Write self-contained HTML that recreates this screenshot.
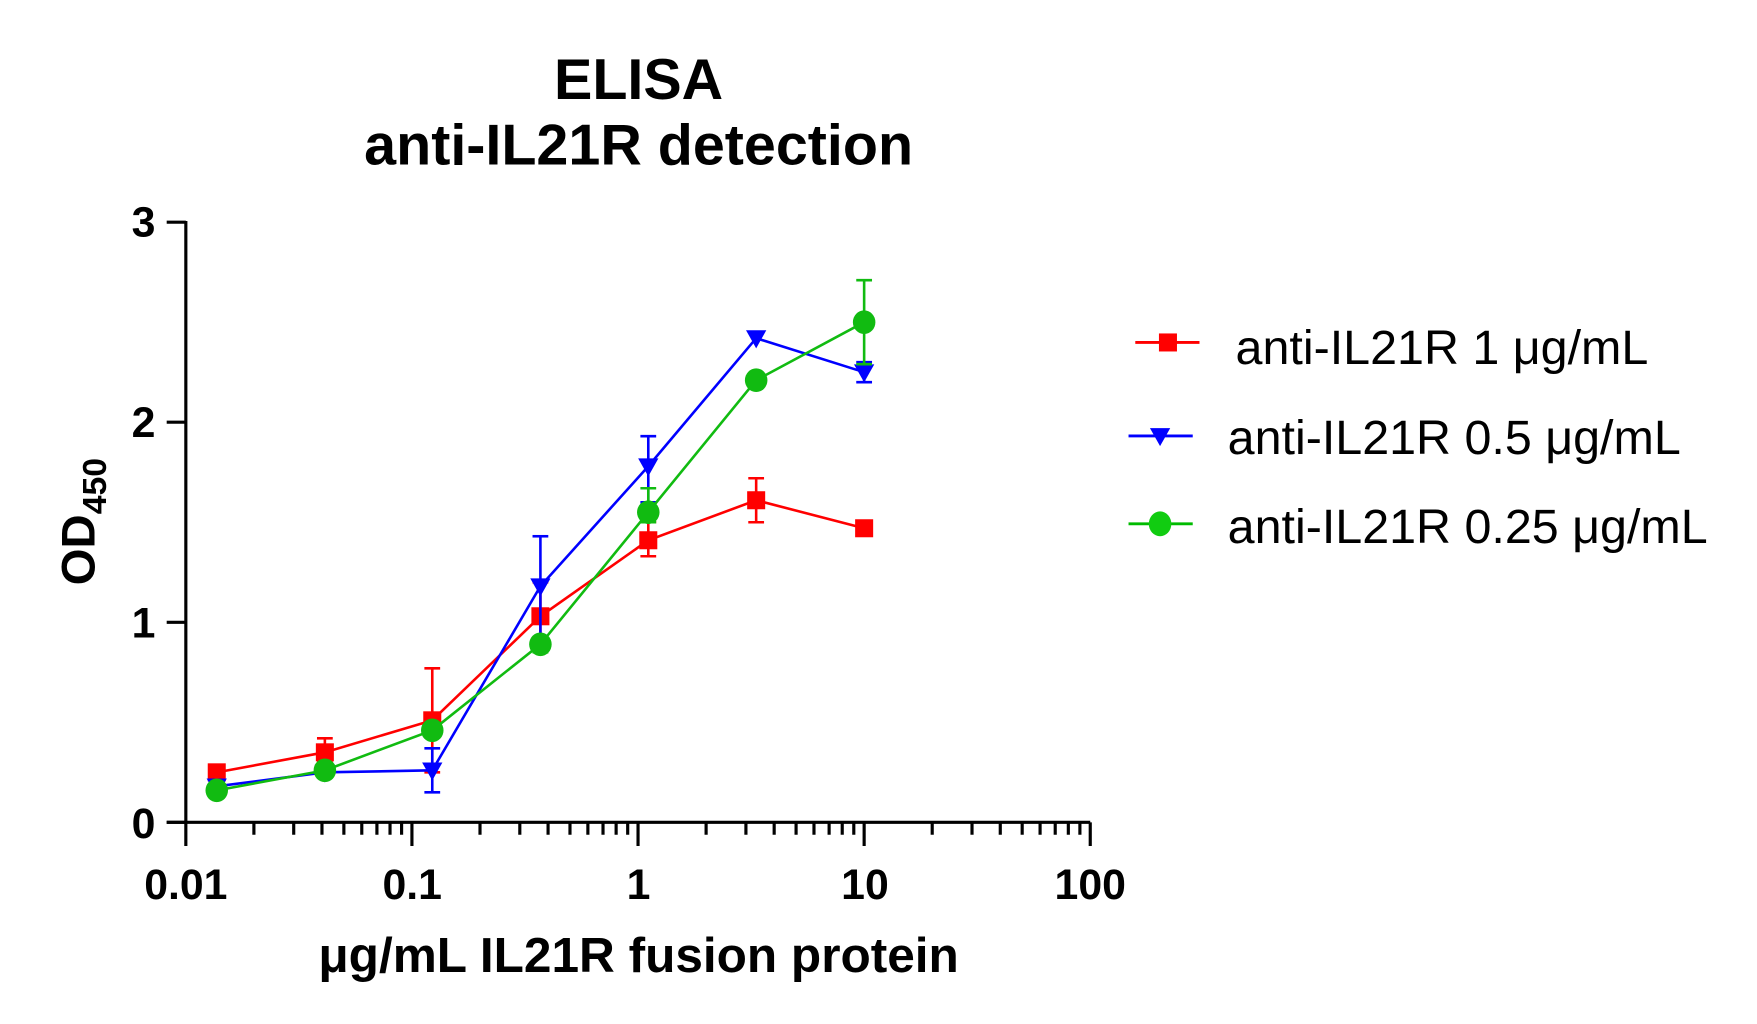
<!DOCTYPE html>
<html><head><meta charset="utf-8"><style>
html,body{margin:0;padding:0;background:#fff;}
svg{display:block;}
text{font-family:"Liberation Sans",Arial,sans-serif;}
</style></head><body>
<svg width="1757" height="1024" viewBox="0 0 1560 909" preserveAspectRatio="none" xmlns="http://www.w3.org/2000/svg">
<rect width="1560" height="909" fill="#fff"/>
<text x="567" y="88" font-size="51" font-weight="bold" text-anchor="middle">ELISA</text>
<text x="567" y="146" font-size="51" font-weight="bold" text-anchor="middle">anti-IL21R detection</text>
<g id="axes" stroke="#000" stroke-width="2.8" fill="none"></g>
<g id="series"></g>
<g font-size="38" font-weight="bold">
<text x="138" y="210" text-anchor="end">3</text>
<text x="138" y="388" text-anchor="end">2</text>
<text x="138" y="566" text-anchor="end">1</text>
<text x="138" y="744" text-anchor="end">0</text>
<text x="165" y="798" text-anchor="middle">0.01</text>
<text x="366" y="798" text-anchor="middle">0.1</text>
<text x="567" y="798" text-anchor="middle">1</text>
<text x="768" y="798" text-anchor="middle">10</text>
<text x="968" y="798" text-anchor="middle">100</text>
</g>
<text x="567" y="863" font-size="44" font-weight="bold" text-anchor="middle">μg/mL IL21R fusion protein</text>
<text transform="translate(84,463) rotate(-90)" font-size="42" font-weight="bold" text-anchor="middle">OD<tspan font-size="30" dy="10">450</tspan></text>
<g font-size="43">
<line x1="1008" y1="304" x2="1065" y2="304" stroke="#f00" stroke-width="2.5"/><rect x="1029" y="296" width="16" height="16" fill="#f00"/>
<text x="1097" y="323">anti-IL21R 1 μg/mL</text>
<line x1="1002" y1="387" x2="1059" y2="387" stroke="#00f" stroke-width="2.5"/><polygon points="1021,380 1039,380 1030,396" fill="#00f"/>
<text x="1090" y="403">anti-IL21R 0.5 μg/mL</text>
<line x1="1002" y1="465" x2="1059" y2="465" stroke="#0b0" stroke-width="2.5"/><ellipse cx="1030" cy="465" rx="10" ry="11" fill="#1c1"/>
<text x="1090" y="482">anti-IL21R 0.25 μg/mL</text>
</g>
<script>
(function(){
var NS="http://www.w3.org/2000/svg";
var x0=165,dec=200.75,y0=730,uy=177.6;
function X(v){return x0+dec*Math.log10(v/0.01);}
function Y(v){return y0-uy*v;}
function el(p,t,a){var e=document.createElementNS(NS,t);for(var k in a)e.setAttribute(k,a[k]);p.appendChild(e);return e;}
var ax=document.getElementById("axes");
el(ax,"line",{x1:x0,y1:Y(3)-1,x2:x0,y2:y0+1});
el(ax,"line",{x1:x0-17,y1:y0,x2:968,y2:y0});
for(var i=0;i<=3;i++)el(ax,"line",{x1:x0-17,y1:Y(i),x2:x0,y2:Y(i)});
for(var d=0;d<4;d++){for(var m=1;m<=9;m++){var x=x0+dec*(d+Math.log10(m));el(ax,"line",{x1:x,y1:y0,x2:x,y2:y0+(m==1?21:11)});}}
el(ax,"line",{x1:968,y1:y0,x2:968,y2:y0+21});
var xs=[0.0137,0.0412,0.123,0.37,1.11,3.33,10];
var S=[
{c:"#f00",m:"sq",y:[0.25,0.35,0.51,1.03,1.41,1.61,1.47],e:[[0.25,0.25],[0.3,0.42],[0.25,0.77],[0.87,1.2],[1.33,1.5],[1.5,1.72],[1.47,1.47]]},
{c:"#00f",m:"tri",y:[0.18,0.25,0.26,1.18,1.78,2.42,2.25],e:[[0.18,0.18],[0.25,0.25],[0.15,0.37],[0.9,1.43],[1.6,1.93],[2.42,2.42],[2.2,2.3]]},
{c:"#1b1",m:"ci",y:[0.16,0.26,0.46,0.89,1.55,2.21,2.5],e:[[0.16,0.16],[0.26,0.26],[0.46,0.46],[0.85,0.92],[1.5,1.67],[2.18,2.24],[2.29,2.71]]}];
var g=document.getElementById("series");
S.forEach(function(s){
 var pts=xs.map(function(v,i){return X(v)+","+Y(s.y[i]);}).join(" ");
 el(g,"polyline",{points:pts,fill:"none",stroke:s.c,"stroke-width":2.3});
 xs.forEach(function(v,i){var x=X(v);var lo=Y(s.e[i][0]),hi=Y(s.e[i][1]);
  if(Math.abs(lo-hi)>1){el(g,"line",{x1:x,y1:lo,x2:x,y2:hi,stroke:s.c,"stroke-width":2.3});
  el(g,"line",{x1:x-7,y1:hi,x2:x+7,y2:hi,stroke:s.c,"stroke-width":2.3});el(g,"line",{x1:x-7,y1:lo,x2:x+7,y2:lo,stroke:s.c,"stroke-width":2.3});}
  var y=Y(s.y[i]);
  if(s.m=="sq")el(g,"rect",{x:x-8,y:y-8,width:16,height:16,fill:s.c});
  else if(s.m=="tri")el(g,"polygon",{points:(x-9)+","+(y-7)+" "+(x+9)+","+(y-7)+" "+x+","+(y+9),fill:s.c});
  else el(g,"ellipse",{cx:x,cy:y,rx:10,ry:10.5,fill:s.c});
 });
});
})();
</script>
</svg>
</body></html>
